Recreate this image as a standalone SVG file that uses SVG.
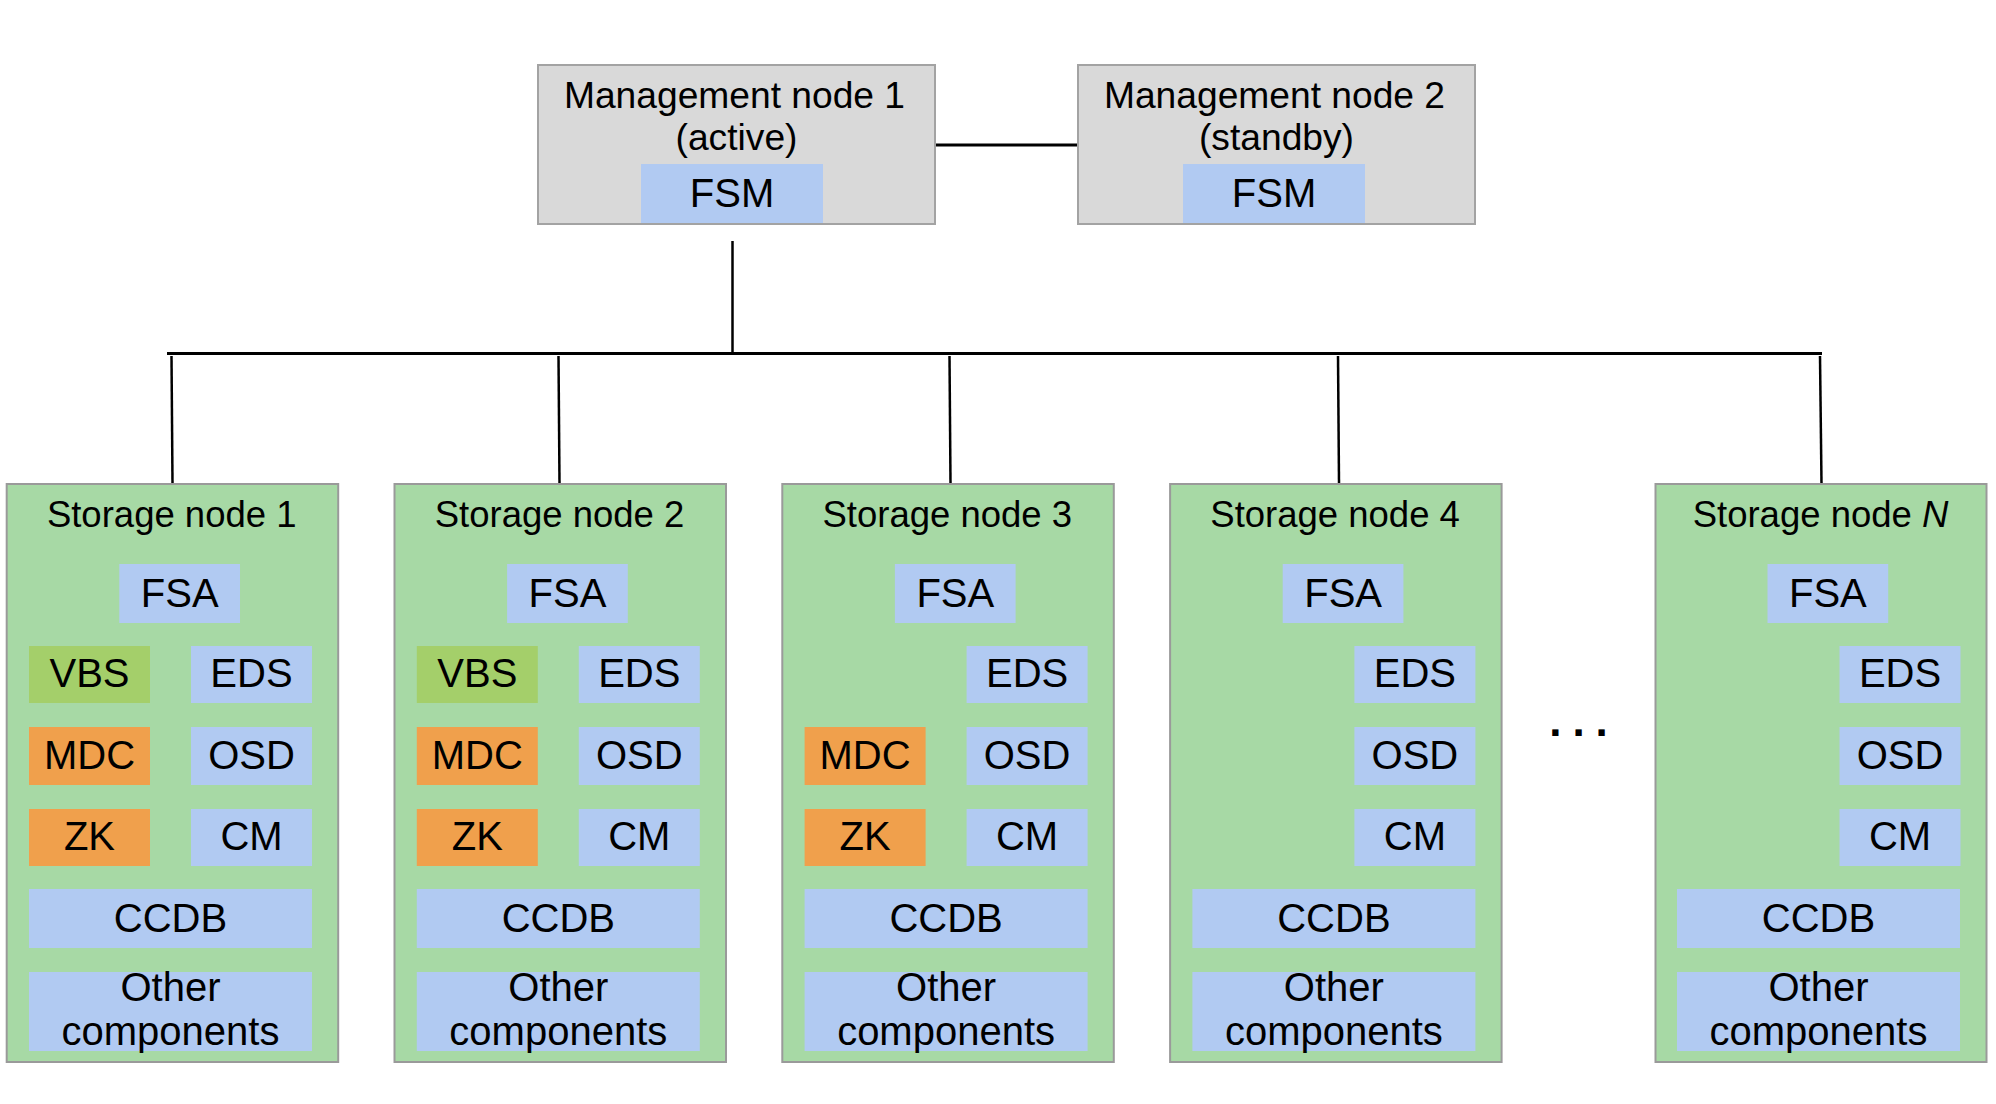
<svg xmlns="http://www.w3.org/2000/svg" width="1996" height="1104" viewBox="0 0 1996 1104">
<style>
text{font-family:"Liberation Sans",Arial,sans-serif;fill:#000;text-anchor:middle}
.mg{fill:#d9d9d9;stroke:#a3a3a3;stroke-width:2}
.sn{fill:#a7d9a5;stroke:#9a9a9a;stroke-width:2}
.bl{fill:#b1caf2}
.vb{fill:#a4cf6a}
.or{fill:#f0a04c}
.mt{font-size:37.2px}
.st{font-size:36.5px}
.ct{font-size:40px}
.ln{stroke:#000;stroke-width:3;fill:none}
.dr{stroke:#000;stroke-width:2.5;fill:none}
</style>
<rect width="1996" height="1104" fill="#fff"/>
<g id="connectors">
<line class="ln" x1="935" y1="145" x2="1078" y2="145"/>
<line class="dr" x1="732.5" y1="241" x2="732.5" y2="353"/>
<line class="ln" x1="167" y1="353.5" x2="1822" y2="353.5"/>
<line class="dr" x1="171.5" y1="356" x2="172.5" y2="484"/>
<line class="dr" x1="558.5" y1="356" x2="559.5" y2="484"/>
<line class="dr" x1="949.5" y1="356" x2="950.5" y2="484"/>
<line class="dr" x1="1338" y1="356" x2="1339" y2="484"/>
<line class="dr" x1="1820" y1="356" x2="1821.5" y2="484"/>
</g>
<g id="mgmt1">
<rect class="mg" x="538" y="65" width="397" height="159"/>
<rect class="bl" x="641" y="164" width="182" height="59"/>
<text class="mt" x="734.5" y="108">Management node 1</text>
<text class="mt" x="736.5" y="150">(active)</text>
<text class="ct" x="732" y="207">FSM</text>
</g>
<g id="mgmt2">
<rect class="mg" x="1078" y="65" width="397" height="159"/>
<rect class="bl" x="1183" y="164" width="182" height="59"/>
<text class="mt" x="1274.5" y="108">Management node 2</text>
<text class="mt" x="1276.5" y="150">(standby)</text>
<text class="ct" x="1274" y="207">FSM</text>
</g>
<g id="storage1" transform="translate(6.7,0)">
<rect class="sn" x="0" y="484" width="331.5" height="578"/>
<text class="st" x="165" y="527">Storage node 1</text>
<rect class="bl" x="112.6" y="564" width="120.7" height="59"/><text class="ct" x="173" y="607">FSA</text>
<rect class="vb" x="22.3" y="646" width="121" height="57"/><text class="ct" x="82.8" y="687">VBS</text>
<rect class="bl" x="184.3" y="646" width="121" height="57"/><text class="ct" x="244.8" y="687">EDS</text>
<rect class="or" x="22.3" y="727" width="121" height="58"/><text class="ct" x="82.8" y="769">MDC</text>
<rect class="bl" x="184.3" y="727" width="121" height="58"/><text class="ct" x="244.8" y="769">OSD</text>
<rect class="or" x="22.3" y="809" width="121" height="57"/><text class="ct" x="82.8" y="850">ZK</text>
<rect class="bl" x="184.3" y="809" width="121" height="57"/><text class="ct" x="244.8" y="850">CM</text>
<rect class="bl" x="22.3" y="889" width="283" height="59"/><text class="ct" x="163.8" y="932">CCDB</text>
<rect class="bl" x="22.3" y="972" width="283" height="79"/><text class="ct" x="163.8" y="1001">Other</text><text class="ct" x="163.8" y="1045">components</text>
</g>
<g id="storage2" transform="translate(394.5,0)">
<rect class="sn" x="0" y="484" width="331.5" height="578"/>
<text class="st" x="165" y="527">Storage node 2</text>
<rect class="bl" x="112.6" y="564" width="120.7" height="59"/><text class="ct" x="173" y="607">FSA</text>
<rect class="vb" x="22.3" y="646" width="121" height="57"/><text class="ct" x="82.8" y="687">VBS</text>
<rect class="bl" x="184.3" y="646" width="121" height="57"/><text class="ct" x="244.8" y="687">EDS</text>
<rect class="or" x="22.3" y="727" width="121" height="58"/><text class="ct" x="82.8" y="769">MDC</text>
<rect class="bl" x="184.3" y="727" width="121" height="58"/><text class="ct" x="244.8" y="769">OSD</text>
<rect class="or" x="22.3" y="809" width="121" height="57"/><text class="ct" x="82.8" y="850">ZK</text>
<rect class="bl" x="184.3" y="809" width="121" height="57"/><text class="ct" x="244.8" y="850">CM</text>
<rect class="bl" x="22.3" y="889" width="283" height="59"/><text class="ct" x="163.8" y="932">CCDB</text>
<rect class="bl" x="22.3" y="972" width="283" height="79"/><text class="ct" x="163.8" y="1001">Other</text><text class="ct" x="163.8" y="1045">components</text>
</g>
<g id="storage3" transform="translate(782.3,0)">
<rect class="sn" x="0" y="484" width="331.5" height="578"/>
<text class="st" x="165" y="527">Storage node 3</text>
<rect class="bl" x="112.6" y="564" width="120.7" height="59"/><text class="ct" x="173" y="607">FSA</text>
<rect class="bl" x="184.3" y="646" width="121" height="57"/><text class="ct" x="244.8" y="687">EDS</text>
<rect class="or" x="22.3" y="727" width="121" height="58"/><text class="ct" x="82.8" y="769">MDC</text>
<rect class="bl" x="184.3" y="727" width="121" height="58"/><text class="ct" x="244.8" y="769">OSD</text>
<rect class="or" x="22.3" y="809" width="121" height="57"/><text class="ct" x="82.8" y="850">ZK</text>
<rect class="bl" x="184.3" y="809" width="121" height="57"/><text class="ct" x="244.8" y="850">CM</text>
<rect class="bl" x="22.3" y="889" width="283" height="59"/><text class="ct" x="163.8" y="932">CCDB</text>
<rect class="bl" x="22.3" y="972" width="283" height="79"/><text class="ct" x="163.8" y="1001">Other</text><text class="ct" x="163.8" y="1045">components</text>
</g>
<g id="storage4" transform="translate(1170.1,0)">
<rect class="sn" x="0" y="484" width="331.5" height="578"/>
<text class="st" x="165" y="527">Storage node 4</text>
<rect class="bl" x="112.6" y="564" width="120.7" height="59"/><text class="ct" x="173" y="607">FSA</text>
<rect class="bl" x="184.3" y="646" width="121" height="57"/><text class="ct" x="244.8" y="687">EDS</text>
<rect class="bl" x="184.3" y="727" width="121" height="58"/><text class="ct" x="244.8" y="769">OSD</text>
<rect class="bl" x="184.3" y="809" width="121" height="57"/><text class="ct" x="244.8" y="850">CM</text>
<rect class="bl" x="22.3" y="889" width="283" height="59"/><text class="ct" x="163.8" y="932">CCDB</text>
<rect class="bl" x="22.3" y="972" width="283" height="79"/><text class="ct" x="163.8" y="1001">Other</text><text class="ct" x="163.8" y="1045">components</text>
</g>
<g id="ellipsis">
<text x="1584" y="736" style="font-size:44px;font-weight:bold;letter-spacing:11px">...</text>
</g>
<g id="storageN" transform="translate(1655.5,0)">
<rect class="sn" x="0" y="484" width="331" height="578"/>
<text class="st" x="165" y="527">Storage node <tspan font-style="italic">N</tspan></text>
<rect class="bl" x="112" y="564" width="120.7" height="59"/><text class="ct" x="172.4" y="607">FSA</text>
<rect class="bl" x="184" y="646" width="121" height="57"/><text class="ct" x="244.5" y="687">EDS</text>
<rect class="bl" x="184" y="727" width="121" height="58"/><text class="ct" x="244.5" y="769">OSD</text>
<rect class="bl" x="184" y="809" width="121" height="57"/><text class="ct" x="244.5" y="850">CM</text>
<rect class="bl" x="21.5" y="889" width="283" height="59"/><text class="ct" x="163" y="932">CCDB</text>
<rect class="bl" x="21.5" y="972" width="283" height="79"/><text class="ct" x="163" y="1001">Other</text><text class="ct" x="163" y="1045">components</text>
</g>
</svg>
